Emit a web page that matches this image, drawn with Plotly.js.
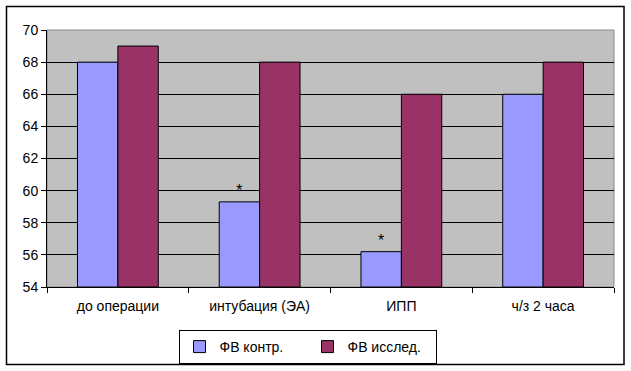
<!DOCTYPE html>
<html>
<head>
<meta charset="utf-8">
<script src="https://cdn.plot.ly/plotly-3.0.1.min.js"></script>
<style>html,body{margin:0;padding:0;background:#fff;}#chart{width:631px;height:371px;}</style>
</head>
<body>
<div id="chart"></div>
<script>
var categories = ["до операции", "интубация (ЭА)", "ИПП", "ч/з 2 часа"];
var seriesNames = ["ФВ контр.", "ФВ исслед."];
var fvControl = [68, 59.3, 56.2, 66];
var fvStudy = [69, 68, 66, 68];
var controlMarks = ["", "*", "*", ""];
var yTicks = [54, 56, 58, 60, 62, 64, 66, 68, 70];
var yBase = 54;

var font = {family: "Liberation Sans, Arial, sans-serif", size: 14, color: "#000"};

var traces = [
  {
    type: "bar", name: seriesNames[0], x: categories,
    y: fvControl.map(function(v){return v - yBase;}), base: yBase,
    text: controlMarks, textposition: "outside", cliponaxis: false,
    textfont: {family: font.family, size: 16, color: "#000"},
    marker: {color: "#9999FF", line: {color: "#000", width: 1}},
    hoverinfo: "skip"
  },
  {
    type: "bar", name: seriesNames[1], x: categories,
    y: fvStudy.map(function(v){return v - yBase;}), base: yBase,
    marker: {color: "#993366", line: {color: "#000", width: 1}},
    hoverinfo: "skip"
  }
];

var layout = {
  width: 631, height: 371,
  margin: {l: 47, r: 17, t: 30, b: 84, autoexpand: false},
  paper_bgcolor: "#fff",
  plot_bgcolor: "#C0C0C0",
  font: font,
  barmode: "group",
  bargap: 0.43,
  bargroupgap: 0,
  showlegend: true,
  legend: {
    orientation: "h", xref: "container", yref: "container",
    x: 307.5 / 631, xanchor: "center", y: 7 / 371, yanchor: "bottom",
    bordercolor: "#000", borderwidth: 1, bgcolor: "#fff",
    font: font, itemwidth: 30, traceorder: "normal", entrywidth: 83
  },
  xaxis: {
    type: "category", showline: true, linecolor: "#000", linewidth: 1,
    ticks: "outside", tickson: "boundaries", ticklen: 5, tickcolor: "#000",
    ticklabelstandoff: 6, automargin: false,
    showgrid: false, zeroline: false, mirror: false, fixedrange: true
  },
  yaxis: {
    range: [54, 70], tickvals: yTicks, ticktext: yTicks.map(String),
    showline: true, linecolor: "#000", linewidth: 1,
    ticks: "outside", ticklen: 5, tickcolor: "#000", automargin: false,
    showgrid: true, gridcolor: "#000", gridwidth: 1, zeroline: false, fixedrange: true
  },
  shapes: [
    {type: "rect", xref: "paper", yref: "paper", x0: 0, x1: 1, y0: 0, y1: 1,
     line: {color: "#888", width: 1}, layer: "below"},
    {type: "rect", xref: "paper", yref: "paper",
     x0: (6.5 - 47) / 567, x1: (624 - 47) / 567,
     y0: (287 - 364.5) / 257, y1: (287 - 6.5) / 257,
     line: {color: "#000", width: 1.5}, fillcolor: "rgba(0,0,0,0)"}
  ]
};

Plotly.newPlot("chart", traces, layout, {displayModeBar: false, staticPlot: true});
</script>
</body>
</html>
